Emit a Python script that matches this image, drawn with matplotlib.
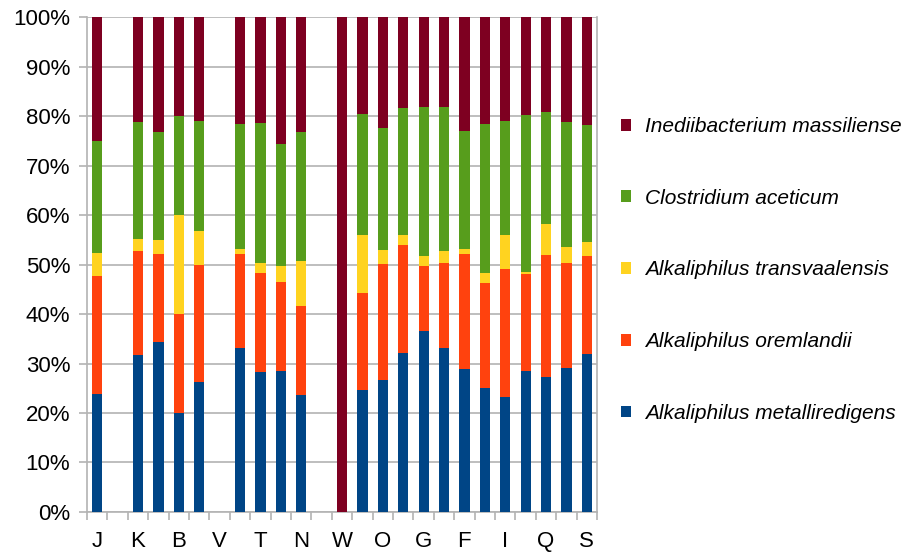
"""Stacked 100% bar chart of species composition per sample."""

import matplotlib

matplotlib.use("Agg")
import matplotlib.pyplot as plt
import numpy as np

plt.rcParams["font.family"] = ["Liberation Sans", "DejaVu Sans"]

# 25 slots, only every second one is labelled; slots 1, 6 and 11 are empty
tick_labels = ["J", "", "K", "", "B", "", "V", "", "T", "", "N", "", "W",
               "", "O", "", "G", "", "F", "", "I", "", "Q", "", "S"]

species = [
    "Alkaliphilus metalliredigens",
    "Alkaliphilus oremlandii",
    "Alkaliphilus transvaalensis",
    "Clostridium aceticum",
    "Inediibacterium massiliense",
]

metalliredigens = [23.9, 0, 31.7, 34.3, 20.0, 26.3, 0, 33.1, 28.2, 28.5, 23.6, 0, 0,
                   24.6, 26.6, 32.1, 36.5, 33.1, 28.8, 25.1, 23.2, 28.5, 27.3, 29.0, 31.9]
oremlandii = [23.7, 0, 21.0, 17.8, 20.0, 23.6, 0, 19.0, 20.1, 18.0, 18.0, 0, 0,
              19.7, 23.6, 21.9, 13.2, 17.3, 23.3, 21.2, 26.0, 19.5, 24.6, 21.4, 19.8]
transvaalensis = [4.8, 0, 2.4, 2.8, 20.0, 6.9, 0, 1.0, 2.1, 3.3, 9.1, 0, 0,
                  11.7, 2.7, 2.0, 2.0, 2.3, 1.0, 2.0, 6.8, 0.5, 6.3, 3.2, 2.9]
aceticum = [22.6, 0, 23.8, 21.8, 20.0, 22.3, 0, 25.4, 28.3, 24.5, 26.0, 0, 0,
            24.5, 24.6, 25.6, 30.1, 29.1, 23.8, 30.1, 23.1, 31.8, 22.7, 25.3, 23.6]
massiliense = [25.0, 0, 21.1, 23.3, 20.0, 20.9, 0, 21.5, 21.3, 25.7, 23.3, 0, 100.0,
               19.5, 22.5, 18.4, 18.2, 18.2, 23.1, 21.6, 20.9, 19.7, 19.1, 21.1, 21.8]

colors = ["#004586", "#ff420e", "#ffd320", "#579d1c", "#7e0021"]


def main() -> None:
    series = [metalliredigens, oremlandii, transvaalensis, aceticum, massiliense]
    x = np.arange(len(tick_labels))

    fig = plt.figure(figsize=(9.14, 5.52), dpi=100)
    ax = fig.add_axes([0.0952, 0.0725, 0.5580, 0.8965])

    bottom = np.zeros(len(x))
    handles = []
    for name, values, color in zip(species, series, colors):
        values = np.array(values, dtype=float)
        bars = ax.bar(x, values, width=0.5, bottom=bottom, color=color,
                      label=name, zorder=3)
        handles.append(bars)
        bottom += values

    ax.set_xlim(-0.5, len(x) - 0.5)
    ax.set_ylim(0, 100)

    # y axis: percent ticks with grey gridlines
    ax.set_yticks(np.arange(0, 101, 10))
    ax.set_yticklabels([f"{v}%" for v in range(0, 101, 10)])
    ax.yaxis.grid(True, color="#b3b3b3", linewidth=1.2, zorder=0)
    ax.tick_params(axis="y", length=6, width=1.2, color="#b3b3b3",
                   labelsize=16, pad=6)

    # x axis: tick marks on slot borders, labels in slot centres
    ax.set_xticks(np.arange(-0.5, len(x), 1.0))
    ax.set_xticklabels([])
    ax.set_xticks(x, minor=True)
    ax.set_xticklabels(tick_labels, minor=True)
    ax.tick_params(axis="x", which="major", length=6, width=1.2, color="#b3b3b3")
    ax.tick_params(axis="x", which="minor", length=0, labelsize=16, pad=14)

    for spine in ax.spines.values():
        spine.set_color("#b3b3b3")
        spine.set_linewidth(1.2)
    ax.spines["top"].set_visible(False)

    fig.legend(
        handles[::-1],
        species[::-1],
        loc="center left",
        bbox_to_anchor=(0.679, 0.511),
        frameon=False,
        prop={"style": "italic", "size": 15},
        handlelength=0.5,
        handleheight=0.5,
        handletextpad=0.65,
        labelspacing=2.53,
        borderpad=0,
        borderaxespad=0,
    )

    fig.savefig("out.png", dpi=100)
    plt.close(fig)


if __name__ == "__main__":
    main()
